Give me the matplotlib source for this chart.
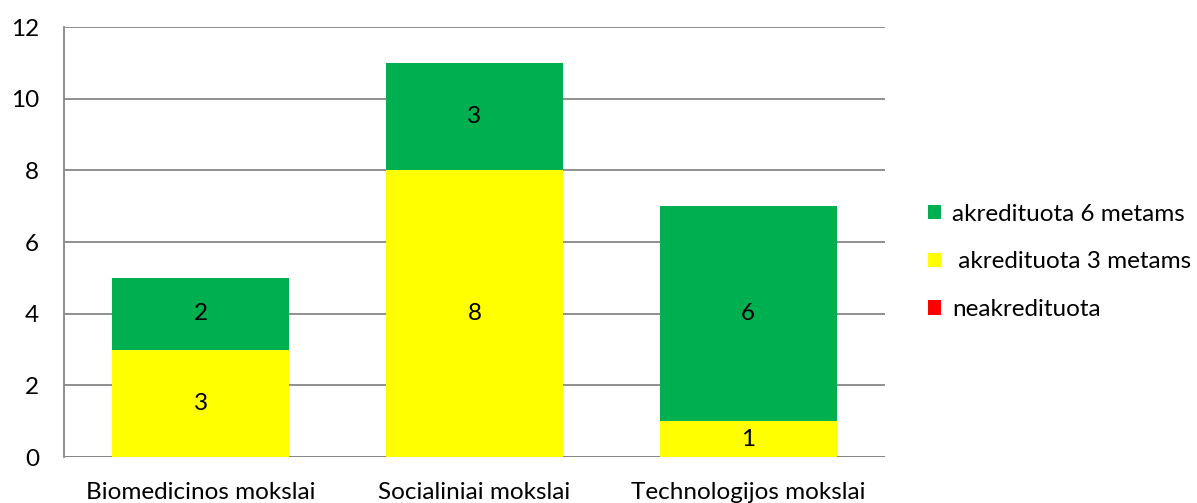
import matplotlib
matplotlib.use("Agg")
import matplotlib.pyplot as plt
import numpy as np

categories = ["Biomedicinos mokslai", "Socialiniai mokslai", "Technologijos mokslai"]
neakredituota = [0, 0, 0]
akr3 = [3, 8, 1]
akr6 = [2, 3, 6]
series_names = ["neakredituota", " akredituota 3 metams", "akredituota 6 metams"]
colors = ["#FF0000", "#FFFF00", "#00B050"]
yticks = [0, 2, 4, 6, 8, 10, 12]

plt.rcParams['font.family'] = ['Lato', 'DejaVu Sans']
FS = 17.5

fig = plt.figure(figsize=(11.97, 5.03), dpi=100)
ax = fig.add_axes([64/1197, 1-457/503, (885-64)/1197, (457-27)/503])

x = np.arange(len(categories))
w = 0.647
b0 = ax.bar(x, neakredituota, w, color=colors[0], label=series_names[0])
b1 = ax.bar(x, akr3, w, bottom=neakredituota, color=colors[1], label=series_names[1])
bottom2 = [a + b for a, b in zip(neakredituota, akr3)]
b2 = ax.bar(x, akr6, w, bottom=bottom2, color=colors[2], label=series_names[2])

for bars, vals, bots in [(b1, akr3, neakredituota), (b2, akr6, bottom2)]:
    for rect, v, bt in zip(bars, vals, bots):
        if v:
            ax.text(rect.get_x() + rect.get_width()/2, bt + v/2, str(v),
                    ha='center', va='center', fontsize=FS, color='black')

ax.set_xlim(-0.5, 2.5)
ax.set_ylim(0, 12)
ax.set_yticks(yticks)
ax.set_xticks(x)
ax.set_xticklabels(categories, fontsize=FS)
ax.tick_params(axis='y', labelsize=FS, length=0, pad=18)
ax.tick_params(axis='x', length=0, pad=18)
ax.grid(axis='y', color='#878787', linewidth=1.3)
ax.set_axisbelow(True)
for s in ['top', 'right', 'bottom']:
    ax.spines[s].set_visible(False)
ax.spines['left'].set_color('#878787')
ax.spines['left'].set_linewidth(1.3)
ax.axhline(0, color='#878787', linewidth=1.3, zorder=0.5)

handles = [b2, b1, b0]
labels = [series_names[2], series_names[1], series_names[0]]
leg = fig.legend(handles, labels, loc='center left', bbox_to_anchor=(928/1197, 1-262/503),
                 frameon=False, fontsize=FS, handlelength=0.55, handleheight=0.55,
                 labelspacing=1.1, handletextpad=0.45, borderpad=0, borderaxespad=0)

fig.savefig("out.png", dpi=100)
